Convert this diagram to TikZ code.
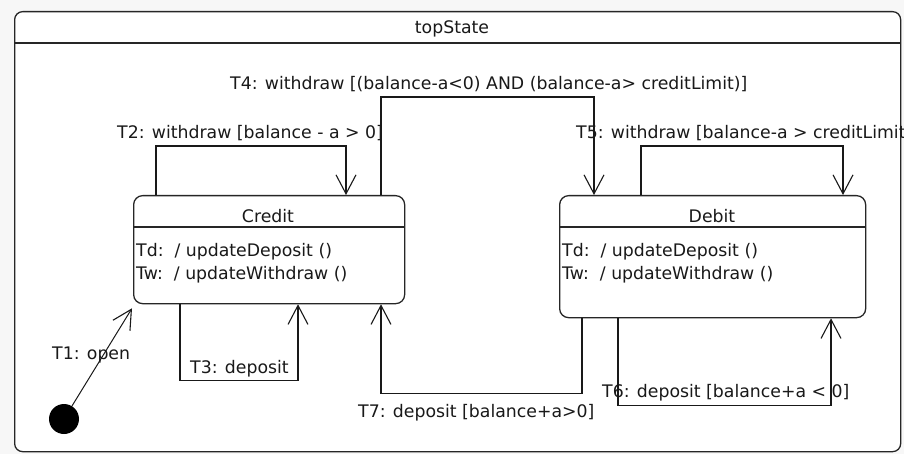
\documentclass[tikz,border=0pt]{standalone}
\usepackage{fontspec}
\setmainfont{DejaVu Sans}
\usetikzlibrary{arrows.meta}
\begin{document}
\begin{tikzpicture}[x=1pt,y=-1pt,
  font=\fontsize{17.3}{20}\selectfont,
  statebox/.style={draw=black!85, fill=white, line width=1.3pt, rounded corners=9pt,
    inner sep=0pt, anchor=north west},
  divider/.style={draw=black!85, line width=1.3pt},
  trans/.style={draw=black!90, line width=1.2pt,
    -{Straight Barb[length=19pt,width=20pt,line width=1.1pt]}},
  lbl/.style={anchor=base west, inner sep=0pt, text=black!90},
  title/.style={anchor=base, inner sep=0pt, text=black!90},
]
% canvas
\useasboundingbox (0,0) rectangle (904,454);
\fill[gray!6] (0,0) rectangle (904,454);

% enclosing state
\node[statebox, rounded corners=8pt, minimum width=886pt, minimum height=440pt] (top) at (14,11) {};
\draw[divider] (top.west |- 0,43) -- (top.east |- 0,43);
\node[title] (toptitle) at (452,34) {topState};

% Credit state
\node[statebox, minimum width=271pt, minimum height=108pt] (credit) at (133,195) {};
\draw[divider] (credit.west |- 0,227) -- (credit.east |- 0,227);
\node[title] (credittitle) at (268,223) {Credit};
\node[lbl] (credittd) at (136,256) {Td:\ \ / updateDeposit ()};
\node[lbl] (credittw) at (136,279) {Tw:\ \ / updateWithdraw ()};

% Debit state
\node[statebox, minimum width=306pt, minimum height=122pt] (debit) at (559,195) {};
\draw[divider] (debit.west |- 0,227) -- (debit.east |- 0,227);
\node[title] (debittitle) at (712,223) {Debit};
\node[lbl] (debittd) at (562,256) {Td:\ \ / updateDeposit ()};
\node[lbl] (debittw) at (562,279) {Tw:\ \ / updateWithdraw ()};

% initial pseudo-state
\node[circle, fill=black, minimum size=30pt, inner sep=0pt] (init) at (64,419) {};

% transitions
\draw[trans, line width=1pt] (init) -- ([xshift=-1pt,yshift=-4pt]credit.south west);
\node[lbl] (t1) at (52,359) {T1: open};

\draw[trans] ([xshift=23pt]credit.north west) -- ++(0,-49) -| ([xshift=213pt]credit.north west);
\node[lbl] (t2) at (117,139) {T2: withdraw [balance - a > 0]};

\draw[trans] ([xshift=47pt]credit.south west) -- ++(0,76) -| ([xshift=165pt]credit.south west);
\node[lbl] (t3) at (190,373) {T3: deposit};

\draw[trans] ([xshift=248pt]credit.north west) -- ++(0,-98) -| ([xshift=35pt]debit.north west);
\node[lbl] (t4) at (230,90) {T4: withdraw [(balance-a<0) AND (balance-a> creditLimit)]};

\draw[trans] ([xshift=82pt]debit.north west) -- ++(0,-49) -| ([xshift=284pt]debit.north west);
\node[lbl] (t5) at (576,139) {T5: withdraw [balance-a > creditLimit};

\draw[trans] ([xshift=59pt]debit.south west) -- ++(0,87) -| ([xshift=272pt]debit.south west);
\node[lbl] (t6) at (602,397) {T6: deposit [balance+a < 0]};

\draw[trans] ([xshift=23pt]debit.south west) -- ++(0,75) -| ([xshift=248pt]credit.south west);
\node[lbl] (t7) at (358,417) {T7: deposit [balance+a>0]};
\end{tikzpicture}
\end{document}
